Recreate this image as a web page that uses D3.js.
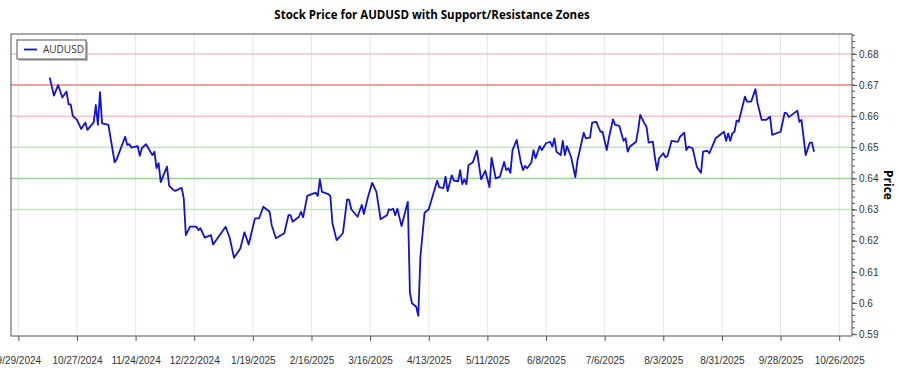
<!DOCTYPE html>
<html>
<head>
<meta charset="utf-8">
<script src="https://cdn.jsdelivr.net/npm/d3@7"></script>
<style>
  body { margin: 0; background: #fff; }
  svg { font-family: "Segoe UI", "Open Sans", "Noto Sans", sans-serif; }
</style>
</head>
<body>
<svg id="chart" width="900" height="375"></svg>
<script>
// ----- data -----
const dates = [
  "2024-10-14","2024-10-16","2024-10-18","2024-10-20","2024-10-22","2024-10-23","2024-10-24","2024-10-25","2024-10-27","2024-10-29",
  "2024-10-31","2024-11-01","2024-11-04","2024-11-05","2024-11-06","2024-11-07","2024-11-08","2024-11-11","2024-11-14","2024-11-15",
  "2024-11-19","2024-11-20","2024-11-21","2024-11-22","2024-11-25","2024-11-26","2024-11-27","2024-11-29","2024-12-02","2024-12-03",
  "2024-12-04","2024-12-05","2024-12-06","2024-12-09","2024-12-10","2024-12-12","2024-12-13","2024-12-16","2024-12-17","2024-12-18",
  "2024-12-20","2024-12-23","2024-12-24","2024-12-25","2024-12-27","2024-12-30","2024-12-31","2025-01-06","2025-01-08","2025-01-10",
  "2025-01-13","2025-01-15","2025-01-17","2025-01-20","2025-01-22","2025-01-24","2025-01-27","2025-01-28","2025-01-30","2025-02-03",
  "2025-02-05","2025-02-06","2025-02-07","2025-02-10","2025-02-11","2025-02-12","2025-02-14","2025-02-17","2025-02-18","2025-02-19",
  "2025-02-20","2025-02-21","2025-02-24","2025-02-25","2025-02-26","2025-02-28","2025-03-03","2025-03-05","2025-03-06","2025-03-07",
  "2025-03-10","2025-03-12","2025-03-13","2025-03-15","2025-03-17","2025-03-19","2025-03-21","2025-03-24","2025-03-25","2025-03-26",
  "2025-03-27","2025-03-28","2025-03-29","2025-03-31","2025-04-03","2025-04-04","2025-04-05","2025-04-07","2025-04-08","2025-04-09",
  "2025-04-11","2025-04-13","2025-04-17","2025-04-18","2025-04-20","2025-04-21","2025-04-22","2025-04-24","2025-04-25","2025-04-27",
  "2025-04-28","2025-04-29","2025-04-30","2025-05-01","2025-05-02","2025-05-04","2025-05-06","2025-05-08","2025-05-10","2025-05-12",
  "2025-05-13","2025-05-15","2025-05-17","2025-05-19","2025-05-20","2025-05-21","2025-05-22","2025-05-23","2025-05-25","2025-05-27",
  "2025-05-28","2025-05-29","2025-05-30","2025-06-01","2025-06-02","2025-06-03","2025-06-05","2025-06-06","2025-06-08","2025-06-10",
  "2025-06-11","2025-06-12","2025-06-13","2025-06-15","2025-06-16","2025-06-17","2025-06-18","2025-06-20","2025-06-22","2025-06-23",
  "2025-06-26","2025-06-27","2025-06-29","2025-06-30","2025-07-02","2025-07-04","2025-07-05","2025-07-07","2025-07-08","2025-07-10",
  "2025-07-11","2025-07-13","2025-07-15","2025-07-16","2025-07-17","2025-07-18","2025-07-21","2025-07-22","2025-07-23","2025-07-25",
  "2025-07-26","2025-07-27","2025-07-29","2025-07-30","2025-07-31","2025-08-01","2025-08-03","2025-08-04","2025-08-05","2025-08-07",
  "2025-08-09","2025-08-10","2025-08-11","2025-08-13","2025-08-14","2025-08-15","2025-08-17","2025-08-19","2025-08-21","2025-08-22",
  "2025-08-24","2025-08-25","2025-08-28","2025-09-01","2025-09-02","2025-09-03","2025-09-04","2025-09-05","2025-09-06","2025-09-07",
  "2025-09-08","2025-09-11","2025-09-12","2025-09-14","2025-09-16","2025-09-17","2025-09-19","2025-09-21","2025-09-23","2025-09-24",
  "2025-09-28","2025-09-30","2025-10-01","2025-10-02","2025-10-06","2025-10-07","2025-10-08","2025-10-10","2025-10-12","2025-10-13",
  "2025-10-14"
];

const prices = [
  0.6724,0.6666,0.6700,0.6660,0.6679,0.6638,0.6638,0.6601,0.6588,0.6559,
  0.6580,0.6556,0.6580,0.6636,0.6572,0.6677,0.6577,0.6572,0.6452,0.6462,
  0.6534,0.6508,0.6510,0.6499,0.6504,0.6473,0.6497,0.6510,0.6475,0.6486,
  0.6433,0.6449,0.6388,0.6438,0.6377,0.6363,0.6360,0.6370,0.6336,0.6218,
  0.6245,0.6245,0.6234,0.6240,0.6210,0.6218,0.6188,0.6245,0.6208,0.6145,
  0.6175,0.6227,0.6188,0.6272,0.6272,0.6309,0.6293,0.6250,0.6208,0.6224,
  0.6282,0.6282,0.6261,0.6277,0.6293,0.6275,0.6344,0.6352,0.6354,0.6344,
  0.6397,0.6357,0.6350,0.6344,0.6256,0.6202,0.6224,0.6333,0.6331,0.6301,
  0.6277,0.6315,0.6286,0.6341,0.6386,0.6357,0.6269,0.6282,0.6301,0.6299,
  0.6303,0.6282,0.6303,0.6247,0.6325,0.6033,0.5999,0.5988,0.5959,0.6148,
  0.6290,0.6301,0.6393,0.6372,0.6369,0.6406,0.6359,0.6410,0.6393,0.6391,
  0.6427,0.6382,0.6397,0.6382,0.6443,0.6451,0.6489,0.6397,0.6425,0.6372,
  0.6467,0.6400,0.6406,0.6453,0.6427,0.6433,0.6418,0.6491,0.6524,0.6451,
  0.6427,0.6440,0.6433,0.6451,0.6491,0.6465,0.6504,0.6491,0.6513,0.6518,
  0.6502,0.6529,0.6486,0.6475,0.6521,0.6475,0.6504,0.6468,0.6404,0.6457,
  0.6547,0.6529,0.6531,0.6579,0.6582,0.6550,0.6550,0.6491,0.6529,0.6590,
  0.6572,0.6569,0.6521,0.6529,0.6486,0.6502,0.6518,0.6556,0.6604,0.6577,
  0.6566,0.6515,0.6518,0.6468,0.6427,0.6465,0.6481,0.6468,0.6472,0.6521,
  0.6518,0.6518,0.6534,0.6547,0.6491,0.6502,0.6497,0.6438,0.6418,0.6486,
  0.6489,0.6481,0.6529,0.6550,0.6521,0.6545,0.6521,0.6545,0.6550,0.6586,
  0.6582,0.6663,0.6647,0.6647,0.6687,0.6642,0.6588,0.6588,0.6598,0.6540,
  0.6550,0.6611,0.6609,0.6597,0.6618,0.6582,0.6588,0.6475,0.6515,0.6515,
  0.6486
];

const resistanceLevels = [0.68, 0.67, 0.66];
const supportLevels = [0.65, 0.64, 0.63];
const strongLevels = [0.67, 0.64];

const xTickLabels = ["9/29/2024","10/27/2024","11/24/2024","12/22/2024","1/19/2025","2/16/2025",
  "3/16/2025","4/13/2025","5/11/2025","6/8/2025","7/6/2025","8/3/2025","8/31/2025","9/28/2025","10/26/2025"];
const yTickValues = [0.59, 0.6, 0.61, 0.62, 0.63, 0.64, 0.65, 0.66, 0.67, 0.68];

// ----- layout -----
const svg = d3.select("svg#chart");
const plotL = 11, plotR = 852, plotT = 34, plotB = 336;

const parseDay = d3.timeParse("%Y-%m-%d");
const parseTick = d3.timeParse("%m/%d/%Y");

const series = dates.map((d, i) => ({ date: parseDay(d), price: prices[i] }));

const x = d3.scaleTime()
  .domain([new Date(2024, 8, 25, 12), new Date(2025, 10, 1, 3)])
  .range([plotL, plotR]);

const y = d3.scaleLinear()
  .domain([0.5894, 0.6864])
  .range([plotB, plotT]);

// vertical grid
const xTicks = xTickLabels.map(parseTick);
svg.append("g")
  .selectAll("line")
  .data(xTicks)
  .join("line")
  .attr("x1", d => x(d)).attr("x2", d => x(d))
  .attr("y1", plotT).attr("y2", plotB)
  .attr("stroke", "#e6e6e6")
  .attr("stroke-width", 1);

// support / resistance zones
const zones = resistanceLevels.map(v => ({ v, kind: "r" }))
  .concat(supportLevels.map(v => ({ v, kind: "s" })));

svg.append("g")
  .selectAll("line")
  .data(zones)
  .join("line")
  .attr("x1", plotL).attr("x2", plotR)
  .attr("y1", d => y(d.v)).attr("y2", d => y(d.v))
  .attr("stroke", d => {
    const strong = strongLevels.includes(d.v);
    if (d.kind === "r") return strong ? "#ee8080" : "#f6c4c4";
    return strong ? "#9ccf9c" : "#c6e3c6";
  })
  .attr("stroke-width", 1.5);

// price line
const line = d3.line()
  .x(d => x(d.date))
  .y(d => y(d.price));

svg.append("path")
  .datum(series)
  .attr("fill", "none")
  .attr("stroke", "#1212d4")
  .attr("stroke-width", 1.8)
  .attr("stroke-linejoin", "round")
  .attr("d", line);

// frame
svg.append("rect")
  .attr("x", plotL).attr("y", plotT)
  .attr("width", plotR - plotL).attr("height", plotB - plotT)
  .attr("fill", "none")
  .attr("stroke", "#555")
  .attr("stroke-width", 1);

// bottom axis
const xAxis = svg.append("g")
  .attr("transform", `translate(0,${plotB})`)
  .call(d3.axisBottom(x)
    .tickValues(xTicks)
    .tickSize(5)
    .tickFormat(d3.timeFormat("%-m/%-d/%Y")));
xAxis.select(".domain").remove();
xAxis.selectAll(".tick line").attr("stroke", "#555");
xAxis.selectAll(".tick text")
  .attr("y", 21)
  .attr("fill", "#333")
  .style("font-size", "10px");

// right axis, minor ticks first
const minorTicks = d3.range(0.59, 0.6861, 0.002).map(v => +v.toFixed(3));
svg.append("g")
  .attr("transform", `translate(${plotR},0)`)
  .selectAll("line")
  .data(minorTicks)
  .join("line")
  .attr("x1", 0).attr("x2", 3)
  .attr("y1", d => y(d)).attr("y2", d => y(d))
  .attr("stroke", "#555");

const yAxis = svg.append("g")
  .attr("transform", `translate(${plotR},0)`)
  .call(d3.axisRight(y)
    .tickValues(yTickValues)
    .tickSize(5)
    .tickFormat(d => String(+d.toFixed(2))));
yAxis.select(".domain").remove();
yAxis.selectAll(".tick line").attr("stroke", "#555");
yAxis.selectAll(".tick text")
  .attr("x", 7)
  .attr("fill", "#333")
  .style("font-size", "10px");

// y label
svg.append("text")
  .attr("transform", "translate(884,185) rotate(90)")
  .attr("text-anchor", "middle")
  .style("font-size", "12px")
  .style("font-weight", "bold")
  .text("Price");

// title
svg.append("text")
  .attr("x", 432).attr("y", 19)
  .attr("text-anchor", "middle")
  .style("font-size", "11.5px")
  .style("font-weight", "bold")
  .text("Stock Price for AUDUSD with Support/Resistance Zones");

// legend
const legend = svg.append("g");
legend.append("rect")
  .attr("x", 19).attr("y", 42).attr("width", 69).attr("height", 19)
  .attr("fill", "#bbb");
legend.append("rect")
  .attr("x", 17).attr("y", 40).attr("width", 69).attr("height", 19)
  .attr("fill", "#fff")
  .attr("stroke", "#555");
legend.append("line")
  .attr("x1", 24).attr("x2", 37).attr("y1", 49.5).attr("y2", 49.5)
  .attr("stroke", "#1212d4").attr("stroke-width", 1.8);
legend.append("text")
  .attr("x", 43).attr("y", 53)
  .attr("fill", "#333")
  .style("font-size", "10px")
  .text("AUDUSD");
</script>
</body>
</html>
